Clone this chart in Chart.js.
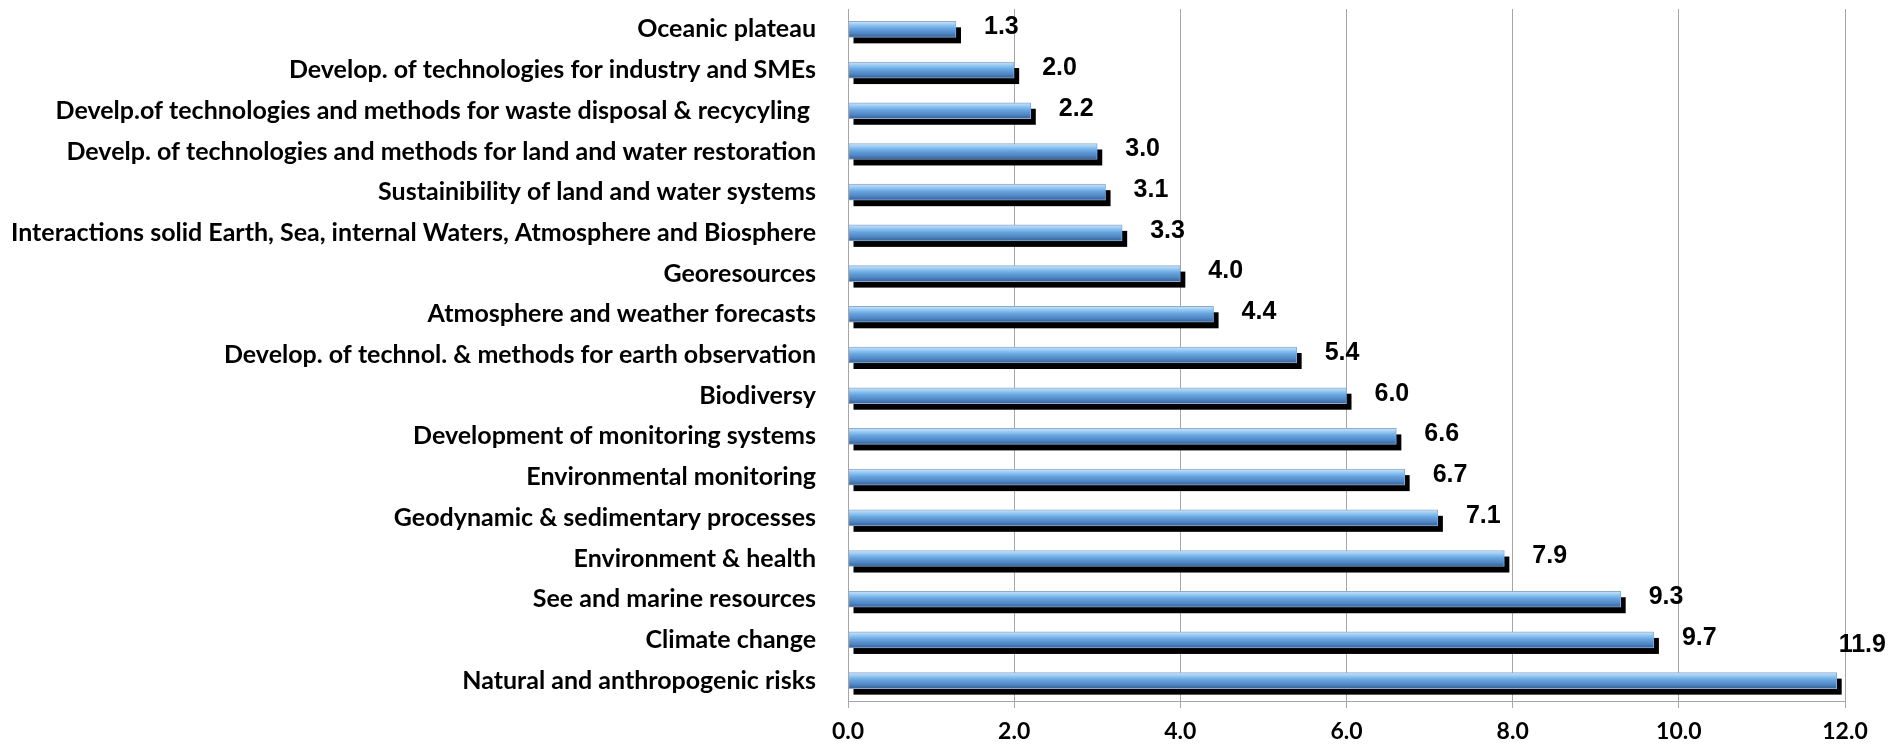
<!DOCTYPE html>
<html lang="en">
<head>
<meta charset="UTF-8">
<title>Topics</title>
<script src="https://cdn.jsdelivr.net/npm/chart.js"></script>
<style>
  html, body { margin: 0; padding: 0; background: #fff; }
  #wrap { width: 1897px; height: 749px; }
</style>
</head>
<body>
<div id="wrap"><canvas id="barChart"></canvas></div>
<script>
// categories, top to bottom
const topics = [
    'Oceanic plateau',
    'Develop. of technologies for industry and SMEs',
    'Develp.of technologies and methods for waste disposal & recycyling ',
    'Develp. of technologies and methods for land and water restoration',
    'Sustainibility of land and water systems',
    'Interactions solid Earth, Sea, internal Waters, Atmosphere and Biosphere',
    'Georesources',
    'Atmosphere and weather forecasts',
    'Develop. of technol. & methods for earth observation',
    'Biodiversy',
    'Development of monitoring systems',
    'Environmental monitoring',
    'Geodynamic & sedimentary processes',
    'Environment & health',
    'See and marine resources',
    'Climate change',
    'Natural and anthropogenic risks'
];
const shares = [1.3, 2.0, 2.2, 3.0, 3.1, 3.3, 4.0, 4.4, 5.4, 6.0, 6.6, 6.7, 7.1, 7.9, 9.3, 9.7, 11.9];
const xTicks = [0, 2, 4, 6, 8, 10, 12];

const BAR_H = 16;
const labelFont = { family: 'Lato, "Open Sans", sans-serif', weight: 'bold', size: 25 };

function barGradient(context) {
    const chart = context.chart;
    const yScale = chart.scales.y;
    if (!chart.chartArea || !yScale) return '#5b9bd5';
    const yc = yScale.getPixelForValue(context.dataIndex);
    const g = chart.ctx.createLinearGradient(0, yc - BAR_H / 2, 0, yc + BAR_H / 2);
    g.addColorStop(0, '#cfe5fa');
    g.addColorStop(0.2, '#98cbf5');
    g.addColorStop(0.45, '#68a5df');
    g.addColorStop(0.75, '#4f86c4');
    g.addColorStop(1, '#355f96');
    return g;
}

// black drop shadow behind every bar
const shadowPlugin = {
    id: 'shadow',
    beforeDatasetsDraw(chart) {
        const ctx = chart.ctx;
        const meta = chart.getDatasetMeta(0);
        ctx.save();
        ctx.fillStyle = '#000';
        meta.data.forEach(bar => {
            ctx.fillRect(bar.base + 5, bar.y - BAR_H / 2 + 6, bar.x - bar.base, BAR_H);
        });
        ctx.restore();
    }
};

// value labels at the bar ends
const valuePlugin = {
    id: 'values',
    afterDraw(chart) {
        const ctx = chart.ctx;
        const meta = chart.getDatasetMeta(0);
        ctx.save();
        ctx.font = 'bold 25px "Liberation Sans", Arial, sans-serif';
        ctx.fillStyle = '#000';
        ctx.textBaseline = 'middle';
        ctx.textAlign = 'left';
        meta.data.forEach((bar, i) => {
            const txt = shares[i].toFixed(1);
            const w = ctx.measureText(txt).width;
            let x = bar.x + 28;
            let y = bar.y - 2;
            if (x + w > chart.width - 5) {
                x = bar.x + 2;
                y = bar.y - 36;
            }
            ctx.fillText(txt, x, y);
        });
        ctx.restore();
    }
};

const ctx1 = document.getElementById('barChart').getContext('2d');
new Chart(ctx1, {
    type: 'bar',
    data: {
        labels: topics,
        datasets: [{
            data: shares,
            backgroundColor: barGradient,
            borderColor: '#8eabcc',
            borderWidth: 1,
            borderSkipped: false,
            barThickness: BAR_H
        }]
    },
    options: {
        indexAxis: 'y',
        responsive: true,
        maintainAspectRatio: false,
        animation: false,
        layout: { padding: { left: 0, right: 52, top: 9, bottom: 0 } },
        plugins: {
            legend: { display: false },
            tooltip: { enabled: false }
        },
        scales: {
            x: {
                min: 0,
                max: 12,
                afterBuildTicks(scale) {
                    scale.ticks = xTicks.map(v => ({ value: v }));
                },
                afterFit(scale) { scale.height = 48; },
                grid: { color: '#a6a6a6', lineWidth: 1, drawTicks: true, tickLength: 7 },
                border: { display: true, color: '#a6a6a6' },
                ticks: {
                    color: '#000',
                    padding: 10,
                    font: { family: 'Lato, "Open Sans", sans-serif', weight: 'bold', size: 23 },
                    callback: v => Number(v).toFixed(1)
                }
            },
            y: {
                afterFit(scale) {
                    scale.width = 848;
                    scale.paddingTop = 0;
                    scale.paddingBottom = 0;
                },
                grid: { display: false },
                border: { display: true, color: '#a6a6a6' },
                ticks: {
                    color: '#000',
                    padding: 24,
                    autoSkip: false,
                    font: labelFont
                }
            }
        }
    },
    plugins: [shadowPlugin, valuePlugin]
});
</script>
</body>
</html>
